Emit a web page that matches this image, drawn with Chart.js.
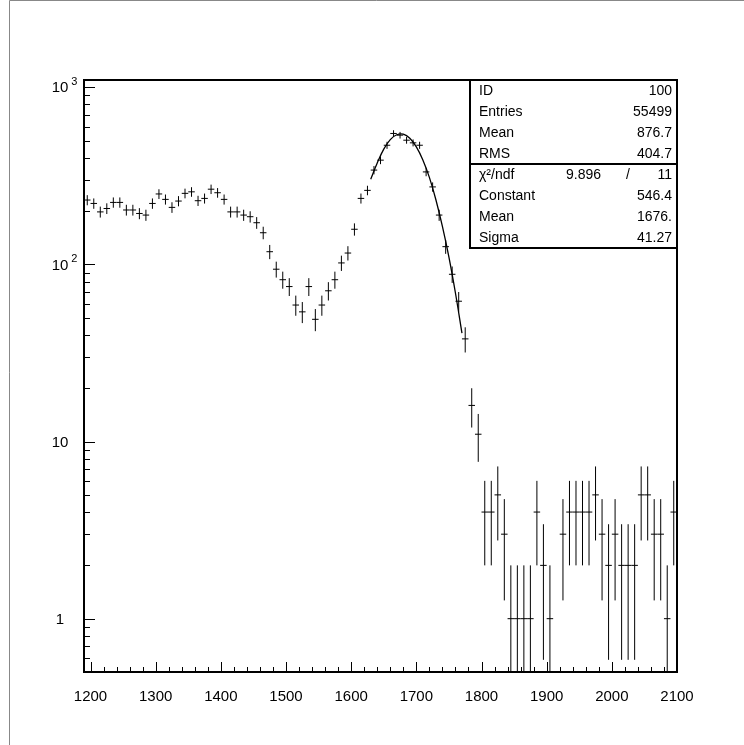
<!DOCTYPE html>
<html>
  <head>
    <title>Histogram 100</title>
    <script src="https://cdn.jsdelivr.net/npm/chart.js"></script>
    <style>
      body { margin: 0; background: #fff; }
    </style>
  </head>
  <body>
    <canvas id="myChart" width="744" height="745"></canvas>
    <script>
      // bin centres (bin width 10) and entries per bin
      const binCenters = [
        1195, 1205, 1215, 1225, 1235, 1245, 1255, 1265, 1275, 1285,
        1295, 1305, 1315, 1325, 1335, 1345, 1355, 1365, 1375, 1385,
        1395, 1405, 1415, 1425, 1435, 1445, 1455, 1465, 1475, 1485,
        1495, 1505, 1515, 1525, 1535, 1545, 1555, 1565, 1575, 1585,
        1595, 1605, 1615, 1625, 1635, 1645, 1655, 1665, 1675, 1685,
        1695, 1705, 1715, 1725, 1735, 1745, 1755, 1765, 1775, 1785,
        1795, 1805, 1815, 1825, 1835, 1845, 1855, 1865, 1875, 1885,
        1895, 1905, 1915, 1925, 1935, 1945, 1955, 1965, 1975, 1985,
        1995, 2005, 2015, 2025, 2035, 2045, 2055, 2065, 2075, 2085,
        2095
      ];
      const counts = [
        231, 221, 198, 207, 224, 224, 203, 203, 194, 190,
        221, 250, 233, 210, 228, 252, 257, 229, 236, 266,
        254, 233, 198, 198, 190, 186, 172, 151, 118, 94,
        82, 75, 59, 54, 75, 49, 59, 71, 82, 102,
        116, 158, 236, 262, 341, 388, 471, 549, 537, 503,
        486, 471, 333, 274, 190, 126, 88, 62, 38, 16,
        11, 4, 4, 5, 3, 1, 1, 1, 1, 4,
        2, 1, 0, 3, 4, 4, 4, 4, 5, 3,
        2, 3, 2, 2, 2, 5, 5, 3, 3, 1,
        4
      ];
      const binWidth = 10;

      // gaussian fit curve as drawn
      const fitX = [1630, 1640, 1650, 1660, 1670, 1680, 1690, 1700, 1710, 1720, 1730, 1740, 1750, 1760, 1770];
      const fitY = [303, 374, 448, 507, 540, 544, 516, 461, 389, 310, 232, 164, 110, 69, 41];

      const xTicks = [1200, 1300, 1400, 1500, 1600, 1700, 1800, 1900, 2000, 2100];
      const yTicks = [1, 10, 100, 1000];
      const yTickBase = ["1", "10", "10", "10"];
      const yTickExp = ["", "", "2", "3"];

      const statLabels = ["ID", "Entries", "Mean", "RMS"];
      const statValues = ["100", "55499", "876.7", "404.7"];
      const fitLabels = ["Constant", "Mean", "Sigma"];
      const fitValues = ["546.4", "1676.", "41.27"];
      const chi2 = "9.896";
      const ndf = "11";

      const FONT = "'Liberation Sans', Arial, sans-serif";

      const histoPlugin = {
        id: "histo",
        beforeDraw(chart) {
          const ctx = chart.ctx;
          ctx.save();
          ctx.fillStyle = "#fff";
          ctx.fillRect(0, 0, chart.width, chart.height);
          ctx.strokeStyle = "#888";
          ctx.lineWidth = 1;
          ctx.beginPath();
          ctx.moveTo(9.5, chart.height);
          ctx.lineTo(9.5, 0.5);
          ctx.lineTo(chart.width, 0.5);
          ctx.stroke();
          ctx.restore();
        },
        afterDatasetsDraw(chart) {
          const ctx = chart.ctx;
          const xs = chart.scales.x;
          const ys = chart.scales.y;
          const a = chart.chartArea;
          ctx.save();
          ctx.beginPath();
          ctx.rect(a.left, a.top, a.right - a.left, a.bottom - a.top);
          ctx.clip();
          ctx.strokeStyle = "#000";
          ctx.lineWidth = 1;
          binCenters.forEach((x, i) => {
            const n = counts[i];
            if (n <= 0) return;
            const err = Math.sqrt(n);
            const px = xs.getPixelForValue(x);
            const py = ys.getPixelForValue(n);
            const x0 = xs.getPixelForValue(x - binWidth / 2);
            const x1 = xs.getPixelForValue(x + binWidth / 2);
            const yHi = ys.getPixelForValue(n + err);
            const yLo = n - err > 0 ? ys.getPixelForValue(n - err) : a.bottom;
            ctx.beginPath();
            ctx.moveTo(x0, py);
            ctx.lineTo(x1, py);
            ctx.moveTo(px, yHi);
            ctx.lineTo(px, Math.min(yLo, a.bottom));
            ctx.stroke();
          });
          ctx.restore();
        },
        afterDraw(chart) {
          const ctx = chart.ctx;
          const xs = chart.scales.x;
          const ys = chart.scales.y;
          const a = chart.chartArea;
          ctx.save();
          ctx.strokeStyle = "#000";
          ctx.lineWidth = 2;
          ctx.strokeRect(a.left, a.top, a.right - a.left, a.bottom - a.top);

          // x ticks, pointing into the frame
          ctx.lineWidth = 1;
          ctx.beginPath();
          for (let v = 1200; v <= 2100; v += 20) {
            const px = Math.round(xs.getPixelForValue(v)) + 0.5;
            const len = v % 100 === 0 ? 10 : 5;
            ctx.moveTo(px, a.bottom);
            ctx.lineTo(px, a.bottom - len);
          }
          // y ticks, log decades
          for (let d = 0.1; d <= 1000; d *= 10) {
            for (let k = 1; k <= 9; k++) {
              const v = Math.round(d * k * 100) / 100;
              if (v < ys.min || v > ys.max) continue;
              const py = Math.round(ys.getPixelForValue(v)) + 0.5;
              const len = k === 1 ? 11 : 6;
              ctx.moveTo(a.left, py);
              ctx.lineTo(a.left + len, py);
            }
          }
          ctx.stroke();

          // y labels with exponents
          ctx.fillStyle = "#000";
          ctx.textBaseline = "middle";
          yTicks.forEach((v, i) => {
            const py = ys.getPixelForValue(v);
            ctx.font = "15px " + FONT;
            ctx.textAlign = "center";
            ctx.fillText(yTickBase[i], 60, py + 1);
            if (yTickExp[i]) {
              const w = ctx.measureText(yTickBase[i]).width;
              ctx.font = "11px " + FONT;
              ctx.textAlign = "left";
              ctx.fillText(yTickExp[i], 60 + w / 2 + 3, py - 5);
            }
          });

          // statistics box
          const bx = 470;
          const bRight = a.right;
          const bTop = a.top;
          const rowH = 21;
          const bDiv = bTop + rowH * 4;
          const bBot = bDiv + rowH * 4;
          ctx.fillStyle = "#fff";
          ctx.fillRect(bx, bTop, bRight - bx, bBot - bTop);
          ctx.lineWidth = 2;
          ctx.strokeRect(bx, bTop, bRight - bx, bBot - bTop);
          ctx.beginPath();
          ctx.moveTo(bx, bDiv);
          ctx.lineTo(bRight, bDiv);
          ctx.stroke();

          ctx.fillStyle = "#000";
          ctx.font = "14px " + FONT;
          const lx = bx + 9;
          const rx = bRight - 5;
          statLabels.forEach((t, i) => {
            const cy = bTop + rowH * (i + 0.5) + 1;
            ctx.textAlign = "left";
            ctx.fillText(t, lx, cy);
            ctx.textAlign = "right";
            ctx.fillText(statValues[i], rx, cy);
          });
          let cy = bDiv + rowH * 0.5 + 1;
          ctx.textAlign = "left";
          ctx.fillText("\u03C7\u00B2/ndf", lx, cy);
          ctx.textAlign = "right";
          ctx.fillText(chi2, 601, cy);
          ctx.textAlign = "center";
          ctx.fillText("/", 628, cy);
          ctx.textAlign = "right";
          ctx.fillText(ndf, rx, cy);
          fitLabels.forEach((t, i) => {
            const yy = bDiv + rowH * (i + 1.5) + 1;
            ctx.textAlign = "left";
            ctx.fillText(t, lx, yy);
            ctx.textAlign = "right";
            ctx.fillText(fitValues[i], rx, yy);
          });
          ctx.restore();
        }
      };

      const config = {
        type: "scatter",
        data: {
          datasets: [
            {
              label: "ID 100",
              data: binCenters.map((x, i) => ({ x: x, y: counts[i] > 0 ? counts[i] : null })),
              pointRadius: 0,
              showLine: false,
            },
            {
              label: "fit",
              data: fitX.map((x, i) => ({ x: x, y: fitY[i] })),
              showLine: true,
              borderColor: "#000",
              borderWidth: 1.3,
              pointRadius: 0,
              tension: 0.4,
            },
          ],
        },
        options: {
          responsive: false,
          animation: false,
          devicePixelRatio: 1,
          layout: { padding: { left: 84, top: 80, right: 67, bottom: 0 } },
          plugins: {
            legend: { display: false },
            tooltip: { enabled: false },
          },
          scales: {
            x: {
              type: "linear",
              min: 1190,
              max: 2100,
              grid: { display: false },
              border: { display: false },
              afterBuildTicks: (scale) => {
                scale.ticks = xTicks.map((v) => ({ value: v }));
              },
              afterFit: (scale) => {
                scale.height = 73;
              },
              ticks: {
                autoSkip: false,
                maxRotation: 0,
                padding: 8,
                color: "#000",
                font: { family: FONT, size: 15 },
                callback: (v) => String(v),
              },
            },
            y: {
              type: "logarithmic",
              display: false,
              min: 0.5,
              max: 1100,
            },
          },
        },
        plugins: [histoPlugin],
      };

      var myChart = new Chart(document.getElementById("myChart"), config);
    </script>
  </body>
</html>
